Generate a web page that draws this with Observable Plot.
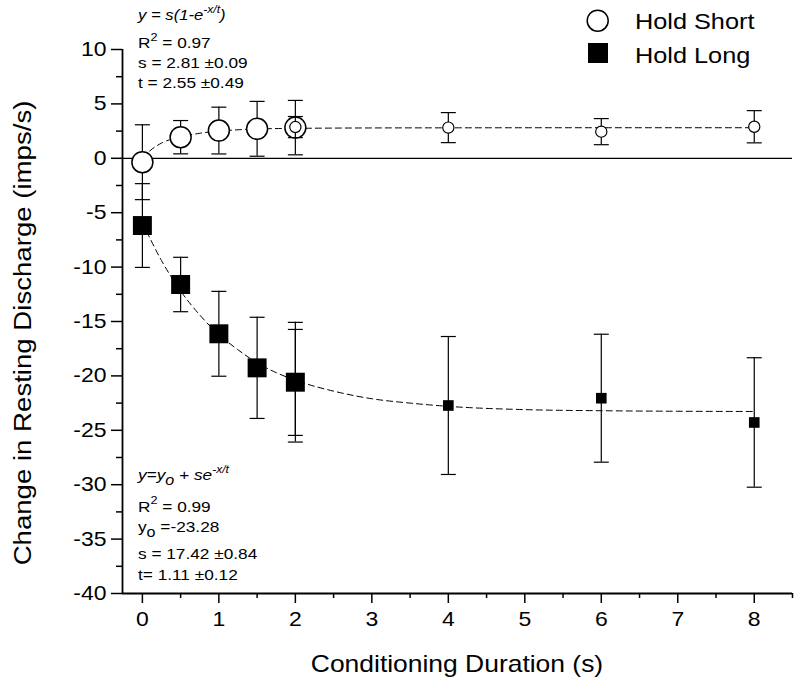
<!DOCTYPE html>
<html>
<head>
<meta charset="utf-8">
<script src="https://cdn.jsdelivr.net/npm/d3@7"></script>
<script src="https://cdn.jsdelivr.net/npm/@observablehq/plot@0.6"></script>
<style>
  html, body { margin: 0; padding: 0; background: #fff; }
  #chart svg { display: block; }
</style>
</head>
<body>
<div id="chart"></div>
<script>
// ---- axis settings ----
const xDomain = [-0.26, 8.5];
const yDomain = [-40, 10];
const xTicks = [0, 1, 2, 3, 4, 5, 6, 7, 8];
const xMinorTicks = [0.5, 1.5, 2.5, 3.5, 4.5, 5.5, 6.5, 7.5, 8.5];
const yTicks = [-40, -35, -30, -25, -20, -15, -10, -5, 0, 5, 10];
const yMinorTicks = [-37.5, -32.5, -27.5, -22.5, -17.5, -12.5, -7.5, -2.5, 2.5, 7.5];

// ---- Hold Short (open circles) ----
const shortBigX = [0, 0.5, 1, 1.5, 2];
const shortBigY = [-0.36, 1.94, 2.55, 2.71, 2.82];
const shortBigErr = [3.44, 1.53, 2.15, 2.52, 2.5];
const shortSmallX = [2, 4, 6, 8];
const shortSmallY = [2.87, 2.82, 2.45, 2.9];
const shortSmallErr = [0.97, 1.38, 1.2, 1.48];
// fitted curve
const shortFitX = [0, 0.1, 0.25, 0.5, 0.75, 1, 1.25, 1.5, 2, 3, 4, 6, 8];
const shortFitY = [0, 0.7, 1.4, 1.95, 2.3, 2.5, 2.62, 2.7, 2.75, 2.79, 2.8, 2.81, 2.81];

// ---- Hold Long (filled squares) ----
const longBigX = [0, 0.5, 1, 1.5, 2];
const longBigY = [-6.18, -11.6, -16.13, -19.26, -20.58];
const longBigErr = [3.85, 2.5, 3.9, 4.65, 5.5];
const longSmallX = [2, 4, 6, 8];
const longSmallY = [-20.6, -22.72, -22.05, -24.28];
const longSmallErr = [4.87, 6.34, 5.88, 5.95];
const longFitX = [0, 0.25, 0.5, 0.75, 1, 1.25, 1.5, 1.75, 2, 2.5, 3, 3.5, 4, 5, 6, 7, 8];
const longFitY = [-5.9, -9.4, -12.2, -14.4, -16.2, -17.6, -18.8, -19.7, -20.4, -21.4, -22.1, -22.5, -22.8, -23.1, -23.2, -23.25, -23.27];

// ---- texts ----
const xTitle = "Conditioning Duration (s)";
const yTitle = "Change in Resting Discharge (imps/s)";
const legendLabels = ["Hold Short", "Hold Long"];

const toRows = (xs, ys, es) => xs.map((x, i) => ({x, y: ys[i], lo: es ? ys[i] - es[i] : null, hi: es ? ys[i] + es[i] : null}));
const shortBig = toRows(shortBigX, shortBigY, shortBigErr);
const shortSmall = toRows(shortSmallX, shortSmallY, shortSmallErr);
const longBig = toRows(longBigX, longBigY, longBigErr);
const longSmall = toRows(longSmallX, longSmallY, longSmallErr);
const shortFit = toRows(shortFitX, shortFitY);
const longFit = toRows(longFitX, longFitY);

const capSymbol = {draw(ctx, size) { const w = Math.sqrt(size / Math.PI); ctx.moveTo(-w, 0); ctx.lineTo(w, 0); }};

const FONT = "'Liberation Sans', Arial, Helvetica, sans-serif";
const SX = 1.15;

function errMarks(data) {
  return [
    Plot.ruleX(data, {x: "x", y1: "lo", y2: "hi", stroke: "black", strokeWidth: 1.2}),
    Plot.dot(data, {x: "x", y: "lo", symbol: capSymbol, r: 7.5, stroke: "black", strokeWidth: 1.2, fill: "none"}),
    Plot.dot(data, {x: "x", y: "hi", symbol: capSymbol, r: 7.5, stroke: "black", strokeWidth: 1.2, fill: "none"})
  ];
}

const chart = Plot.plot({
  width: 800,
  height: 684,
  marginLeft: 122,
  marginRight: 8,
  marginTop: 49,
  marginBottom: 91,
  style: {fontFamily: FONT, fontSize: "20px", color: "black", background: "white"},
  x: {domain: xDomain},
  y: {domain: yDomain},
  marks: [
    Plot.ruleY([0], {stroke: "black", strokeWidth: 1.3}),
    Plot.line(shortFit, {x: "x", y: "y", stroke: "black", strokeWidth: 1, strokeDasharray: "6,4", curve: "monotone-x"}),
    Plot.line(longFit, {x: "x", y: "y", stroke: "black", strokeWidth: 1, strokeDasharray: "6,4", curve: "monotone-x"}),
    ...errMarks(shortBig),
    ...errMarks(longBig),
    Plot.dot(shortBig, {x: "x", y: "y", symbol: "circle", r: 10.5, fill: "white", stroke: "black", strokeWidth: 1.5}),
    Plot.dot(longBig, {x: "x", y: "y", symbol: "square", r: 10.7, fill: "black", stroke: "none"}),
    ...errMarks(shortSmall),
    ...errMarks(longSmall),
    Plot.dot(shortSmall, {x: "x", y: "y", symbol: "circle", r: 5.6, fill: "white", stroke: "black", strokeWidth: 1.2}),
    Plot.dot(longSmall, {x: "x", y: "y", symbol: "square", r: 6.0, fill: "black", stroke: "none"}),
    Plot.axisX({ticks: xTicks, tickSize: 10, tickPadding: 8, strokeWidth: 1.5, fontSize: 20, label: null, tickFormat: d => String(d)}),
    Plot.axisX({ticks: xMinorTicks, tickSize: 5, strokeWidth: 1.5, label: null, tickFormat: () => ""}),
    Plot.axisY({ticks: yTicks, tickSize: 11, tickPadding: 5, strokeWidth: 1.5, fontSize: 20, label: null, tickFormat: d => String(d).replace("−", "-")}),
    Plot.axisY({ticks: yMinorTicks, tickSize: 6, strokeWidth: 1.5, label: null, tickFormat: () => ""}),
    Plot.ruleX([xDomain[0]], {stroke: "black", strokeWidth: 1.8}),
    Plot.ruleY([yDomain[0]], {stroke: "black", strokeWidth: 1.8})
  ]
});

const svg = d3.select(chart);
// drop the empty labels of the minor-tick axes
svg.selectAll("text").filter(function() { return this.textContent === ""; }).remove();
// stretch existing tick labels horizontally
svg.selectAll("text").each(function() {
  const t = d3.select(this);
  const tr = t.attr("transform");
  if (tr) t.attr("transform", tr + ` scale(${SX},1)`);
});

function addText(x, y, parts, opts = {}) {
  const t = svg.append("text")
    .attr("transform", `translate(${x},${y})${opts.rotate ? ` rotate(${opts.rotate})` : ""} scale(${opts.sx ?? SX},1)`)
    .attr("font-family", FONT)
    .attr("font-size", opts.size ?? 15)
    .attr("font-style", opts.italic ? "italic" : "normal")
    .attr("text-anchor", opts.anchor ?? "start")
    .attr("fill", "black");
  for (const p of parts) {
    if (typeof p === "string") t.append("tspan").text(p);
    else t.append("tspan").text(p.t).attr("font-size", p.size ?? 10.5).attr("baseline-shift", p.shift);
  }
  return t;
}

// axis titles
addText(457, 672, [xTitle], {size: 23, anchor: "middle"});
addText(31, 333, [yTitle], {size: 24, anchor: "middle", rotate: -90});

// legend
svg.append("circle").attr("cx", 597.7).attr("cy", 20.7).attr("r", 10.5).attr("fill", "white").attr("stroke", "black").attr("stroke-width", 1.5);
svg.append("rect").attr("x", 588).attr("y", 43).attr("width", 20).attr("height", 20).attr("fill", "black");
addText(635, 28.5, [legendLabels[0]], {size: 22});
addText(635, 63, [legendLabels[1]], {size: 22});

// fit annotations (top: Hold Short)
addText(138, 20, ["y = s(1-e", {t: "-x/t", shift: 7}, ")"], {italic: true, size: 14.5});
addText(138, 48.3, ["R", {t: "2", shift: 7, size: 11}, " = 0.97"]);
addText(138, 68.3, ["s = 2.81 \u00B10.09"]);
addText(138, 88.3, ["t = 2.55 \u00B10.49"]);

// fit annotations (bottom: Hold Long)
addText(138, 480, ["y=y", {t: "o", shift: -5, size: 14}, " + se", {t: "-x/t", shift: 7}], {italic: true, size: 15});
addText(138, 511.7, ["R", {t: "2", shift: 7, size: 11}, " = 0.99"]);
addText(138, 532, ["y", {t: "o", shift: -5, size: 14}, " =-23.28"]);
addText(138, 559.3, ["s = 17.42 \u00B10.84"]);
addText(138, 580, ["t= 1.11 \u00B10.12"]);

document.getElementById("chart").appendChild(chart);
</script>
</body>
</html>
